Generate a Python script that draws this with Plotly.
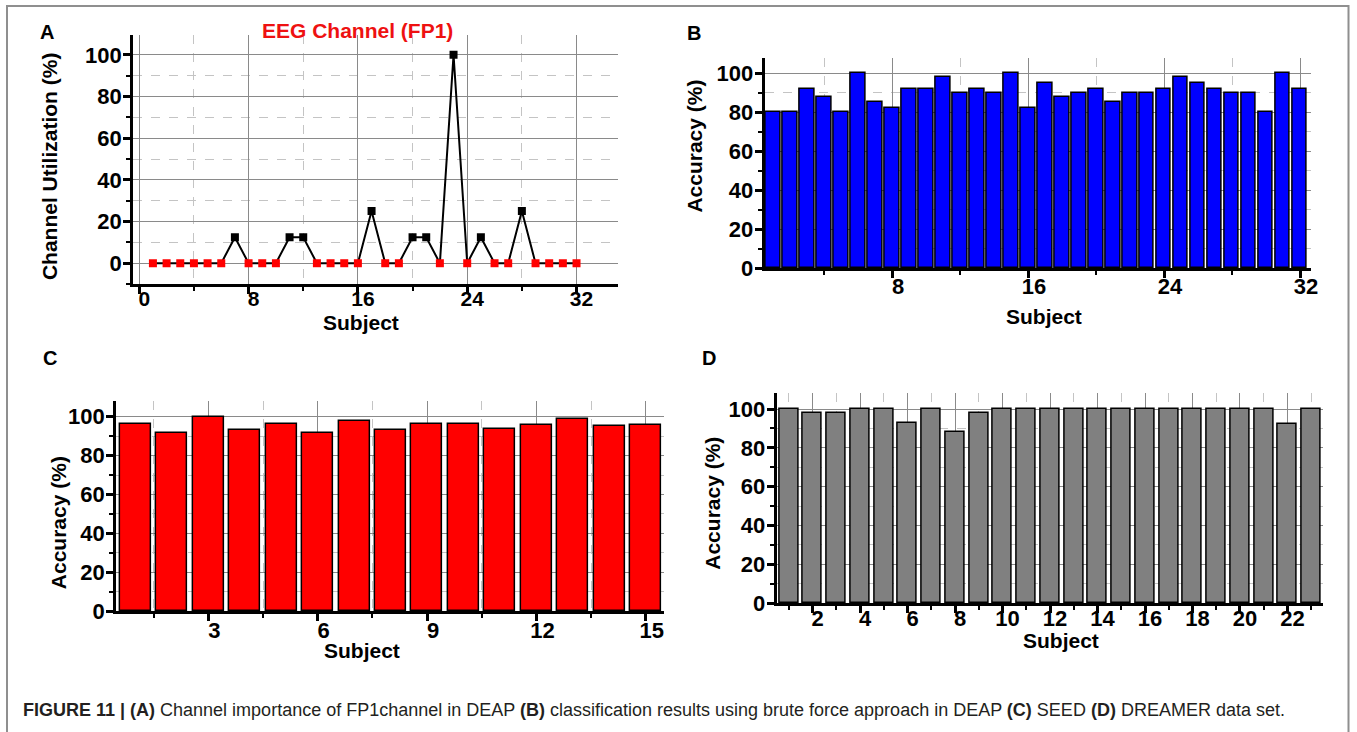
import plotly.graph_objects as go

W, H = 1357, 732

# Panel A: FP1 channel utilization per DEAP subject (%)
subjects_deap = list(range(1, 33))
fp1_utilization = [0, 0, 0, 0, 0, 0, 12.5, 0, 0, 0, 12.5, 12.5, 0, 0, 0, 0,
                   25, 0, 0, 12.5, 12.5, 0, 100, 0, 12.5, 0, 0, 25, 0, 0, 0, 0]

# Panel B: brute-force accuracy per DEAP subject (%)
deap_accuracy = [80, 80, 92, 88, 80, 100, 85, 82, 92, 92, 98, 90, 92, 90, 100, 82,
                 95, 88, 90, 92, 85, 90, 90, 92, 98, 95, 92, 90, 90, 80, 100, 92]

# Panel C: SEED accuracy per subject (%)
subjects_seed = list(range(1, 16))
seed_accuracy = [96.3, 91.7, 99.8, 93.2, 96.3, 91.7, 97.9, 93.3, 96.0, 96.0,
                 93.5, 95.8, 98.6, 95.1, 95.8]

# Panel D: DREAMER accuracy per subject (%)
subjects_dreamer = list(range(1, 24))
dreamer_accuracy = [100, 98, 98, 100, 100, 93, 100, 88, 98, 100, 100, 100,
                    100, 100, 100, 100, 100, 100, 100, 100, 100, 92, 100]

FONT = "Liberation Sans, Arial, sans-serif"
MAJOR_GRID = "#8a8a8a"
MINOR_GRID = "#c4c4c4"

# pixel -> paper conversion (slight correction for the page's rendered scale)
SX, SY = 0.994, 0.982


def fx(p):
    return min(p / (W * SX), 1.0)


def fy(p):
    return 1 - p / (H * SY)


def tick_font(size=22):
    return dict(family=FONT, size=size, color="black", weight="bold")


def axis_style(**kw):
    base = dict(
        showline=True, linecolor="black", linewidth=3,
        ticks="outside", ticklen=7, tickwidth=2.5, tickcolor="black",
        showgrid=True, gridcolor=MAJOR_GRID, gridwidth=1.3,
        zeroline=False, mirror=False,
        tickfont=tick_font(),
        tickmode="linear",
    )
    base.update(kw)
    return base


def minor(dtick, tick0=0):
    return dict(ticks="outside", ticklen=4, tickwidth=2, tickcolor="black",
                showgrid=True, gridcolor=MINOR_GRID, griddash="dash",
                gridwidth=1, dtick=dtick, tick0=tick0)


fig = go.Figure()

# A: line with square markers, red where the channel was unused
marker_colors = ["red" if v == 0 else "black" for v in fp1_utilization]
fig.add_trace(go.Scatter(
    x=subjects_deap, y=fp1_utilization, mode="lines+markers",
    line=dict(color="black", width=2),
    marker=dict(symbol="square", size=8, color=marker_colors, line=dict(width=0)),
    xaxis="x", yaxis="y", showlegend=False,
))

# B, C, D: bar charts
fig.add_trace(go.Bar(x=subjects_deap, y=deap_accuracy, width=0.83,
                     marker=dict(color="#0000ff", line=dict(color="black", width=1.5)),
                     xaxis="x2", yaxis="y2", showlegend=False))
fig.add_trace(go.Bar(x=subjects_seed, y=seed_accuracy, width=0.85,
                     marker=dict(color="#ff0000", line=dict(color="black", width=1.5)),
                     xaxis="x3", yaxis="y3", showlegend=False))
fig.add_trace(go.Bar(x=subjects_dreamer, y=dreamer_accuracy, width=0.8,
                     marker=dict(color="#808080", line=dict(color="black", width=1.5)),
                     xaxis="x4", yaxis="y4", showlegend=False))

layout = dict(
    width=W, height=H,
    margin=dict(l=0, r=0, t=0, b=0),
    paper_bgcolor="white", plot_bgcolor="white",
    font=dict(family=FONT, color="black"),
    bargap=0,
)

XSTAND = -10  # pull x tick labels up toward the axis line
YSTAND = -3

# Panel A axes
layout["xaxis"] = axis_style(domain=[fx(133), fx(617)], anchor="y",
                             range=[-0.45, 35], tick0=0, dtick=8,
                             minor=minor(4), ticklabelshift=5,
                             ticklabelstandoff=XSTAND - 3,
                             tickfont=tick_font(21))
layout["yaxis"] = axis_style(domain=[fy(284), fy(35)], anchor="x",
                             range=[-10, 109.5], tick0=0, dtick=20,
                             minor=minor(10), ticklabelstandoff=YSTAND)
# Panel B axes
layout["xaxis2"] = axis_style(domain=[fx(764), fx(1310)], anchor="y2",
                              range=[0.5, 32.65], tick0=0, dtick=8,
                              minor=minor(4), ticklabelshift=6,
                              ticklabelstandoff=XSTAND)
layout["yaxis2"] = axis_style(domain=[fy(268), fy(58)], anchor="x2",
                              range=[0, 107.8], tick0=0, dtick=20,
                              minor=minor(10), ticklabelstandoff=YSTAND)
# Panel C axes
layout["xaxis3"] = axis_style(domain=[fx(116), fx(663.5)], anchor="y3",
                              range=[0.47, 15.5], tick0=0, dtick=3,
                              minor=minor(1.5), ticklabelshift=6,
                              ticklabelstandoff=XSTAND)
layout["yaxis3"] = axis_style(domain=[fy(611), fy(401)], anchor="x3",
                              range=[0, 108], tick0=0, dtick=20,
                              minor=minor(10), ticklabelstandoff=YSTAND)
# Panel D axes
layout["xaxis4"] = axis_style(domain=[fx(776), fx(1322)], anchor="y4",
                              range=[0.49, 23.5], tick0=0, dtick=2,
                              minor=minor(1), ticklabelshift=5,
                              ticklabelstandoff=XSTAND - 4)
layout["yaxis4"] = axis_style(domain=[fy(603), fy(393)], anchor="x4",
                              range=[0, 108.2], tick0=0, dtick=20,
                              minor=minor(10), ticklabelstandoff=YSTAND)

fig.update_layout(**layout)


def label(text, x, y, size=21, color="black", angle=0, bold=True, xanchor="center"):
    fig.add_annotation(
        text=text, x=fx(x), y=fy(y), xref="paper", yref="paper",
        showarrow=False, textangle=angle, xanchor=xanchor, yanchor="middle",
        borderpad=0,
        font=dict(family=FONT, size=size, color=color,
                  weight="bold" if bold else "normal"),
    )


# Panel letters
label("A", 47, 32, size=20)
label("B", 693, 33, size=20)
label("C", 50, 358, size=20)
label("D", 708, 358, size=20)

# Panel A title
label("EEG Channel (FP1)", 357, 30, size=21, color="#ee1111")

# Axis titles
label("Channel Utilization (%)", 49, 166, angle=-90)
label("Subject", 361, 322)
label("Accuracy (%)", 693, 146, angle=-90)
label("Subject", 1043, 316)
label("Accuracy (%)", 58, 523, angle=-90)
label("Subject", 362, 650)
label("Accuracy (%)", 712, 503, angle=-90)
label("Subject", 1060, 640)

# Figure caption
label("<b>FIGURE 11 | (A)</b> Channel importance of FP1channel in DEAP "
      "<b>(B)</b> classification results using brute force approach in DEAP "
      "<b>(C)</b> SEED <b>(D)</b> DREAMER data set.",
      22, 710, size=18, bold=False, xanchor="left", color="#231f20")

# Outer frame around the figure and caption
fig.add_shape(type="rect", xref="paper", yref="paper",
              x0=fx(7), x1=1 - 1.5 / W, y0=-0.05, y1=fy(6),
              line=dict(color="#8f8f8f", width=2), fillcolor="rgba(0,0,0,0)")

fig.write_html("out.html", post_script="document.body.style.margin='0';")
